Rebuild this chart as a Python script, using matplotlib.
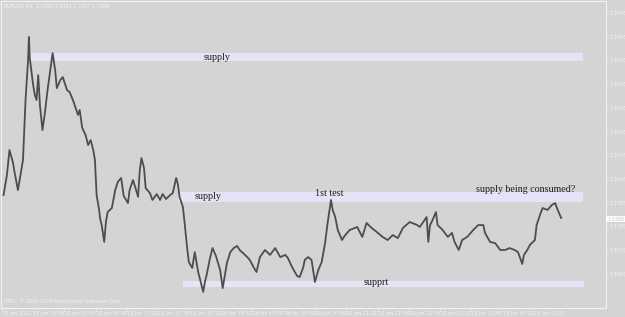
import matplotlib
matplotlib.use('Agg')
import matplotlib.pyplot as plt

# minutes since the first bar (EURUSD, M1)
minutes = [2, 6, 9, 13, 15, 19, 21, 25, 27, 28, 31, 32, 33, 37, 39, 41, 43, 45, 48, 51,
           54, 58, 60, 63, 65, 69, 72, 77, 80, 84, 86, 90, 92, 95, 99, 102, 105, 108, 110, 112,
           115, 116, 118, 121, 123, 125, 130, 134, 137, 141, 144, 149, 151, 155, 158, 161, 163, 165, 168, 170,
           175, 178, 183, 187, 190, 194, 199, 202, 206, 208, 210, 214, 216, 219, 221, 225, 228, 232, 235, 238,
           240, 242, 246, 249, 253, 258, 261, 266, 270, 274, 278, 281, 285, 290, 293, 298, 301, 305, 311, 317,
           323, 329, 335, 338, 343, 349, 352, 356, 358, 362, 366, 370, 374, 378, 382, 385, 389, 391, 394, 397,
           402, 405, 411, 420, 426, 431, 437, 443, 450, 456, 462, 468, 474, 482, 491, 494, 502, 504, 506, 508,
           513, 515, 521, 527, 532, 535, 540, 544, 550, 557, 563, 569, 571, 577, 583, 589, 595, 600, 606, 610,
           615, 617, 621, 624, 630, 632, 636, 639, 645, 650, 654, 656, 661]

price = [1.33982, 1.34066, 1.34172, 1.34121, 1.34079, 1.34003, 1.34045, 1.34130, 1.34298, 1.34383,
         1.34552, 1.34649, 1.34560, 1.34446, 1.34404, 1.34383, 1.34488, 1.34362, 1.34256, 1.34332,
         1.34425, 1.34531, 1.34581, 1.34509, 1.34433, 1.34467, 1.34480, 1.34425, 1.34417, 1.34383,
         1.34362, 1.34320, 1.34341, 1.34265, 1.34235, 1.34193, 1.34214, 1.34172, 1.34130, 1.33982,
         1.33919, 1.33885, 1.33855, 1.33784, 1.33868, 1.33910, 1.33927, 1.34003, 1.34037, 1.34054,
         1.33978, 1.33948, 1.34003, 1.34045, 1.34011, 1.33974, 1.34087, 1.34138, 1.34096, 1.34011,
         1.33990, 1.33961, 1.33986, 1.33961, 1.33986, 1.33965, 1.33982, 1.33990, 1.34054, 1.34028,
         1.33974, 1.33931, 1.33864, 1.33758, 1.33699, 1.33674, 1.33741, 1.33657, 1.33615, 1.33573,
         1.33615, 1.33644, 1.33716, 1.33758, 1.33725, 1.33665, 1.33589, 1.33695, 1.33741, 1.33758,
         1.33767, 1.33750, 1.33737, 1.33720, 1.33708, 1.33674, 1.33657, 1.33720, 1.33750, 1.33729,
         1.33758, 1.33720, 1.33729, 1.33716, 1.33678, 1.33640, 1.33636, 1.33674, 1.33708, 1.33720,
         1.33708, 1.33615, 1.33665, 1.33699, 1.33779, 1.33864, 1.33961, 1.33919, 1.33889, 1.33834,
         1.33792, 1.33809, 1.33834, 1.33847, 1.33805, 1.33864, 1.33843, 1.33826, 1.33805, 1.33792,
         1.33813, 1.33800, 1.33843, 1.33868, 1.33855, 1.33847, 1.33889, 1.33784, 1.33855, 1.33868,
         1.33910, 1.33855, 1.33834, 1.33805, 1.33822, 1.33784, 1.33750, 1.33792, 1.33805, 1.33834,
         1.33855, 1.33855, 1.33822, 1.33784, 1.33779, 1.33750, 1.33750, 1.33758, 1.33750, 1.33741,
         1.33691, 1.33729, 1.33750, 1.33771, 1.33792, 1.33855, 1.33898, 1.33927, 1.33919, 1.33940,
         1.33948, 1.33927, 1.33885]

# horizontal zones drawn on the chart
zone_start = [32, 208, 214]
zone_end = [687, 687, 688]
zone_low = [1.34547, 1.33952, 1.33594]
zone_high = [1.34581, 1.33995, 1.33619]

notes = ['supply', 'supply', '1st test', 'supply being consumed?', 'supprt']
note_x = [239, 228, 370, 560, 428]
note_y = [1.34564, 1.33974, 1.33990, 1.34006, 1.33611]

price_ticks = [1.3365, 1.3375, 1.3385, 1.3395, 1.3405, 1.3415, 1.3425, 1.3435,
               1.3445, 1.3455, 1.3465, 1.3475]
time_labels = ['18 Jan 2011', '18 Jan 15:08', '18 Jan 15:45', '18 Jan 16:24', '18 Jan 17:01',
               '18 Jan 17:38', '18 Jan 18:15', '18 Jan 18:52', '18 Jan 19:29', '18 Jan 20:06',
               '18 Jan 20:46', '18 Jan 21:21', '18 Jan 21:58', '18 Jan 22:34', '18 Jan 23:10',
               '18 Jan 23:46', '19 Jan 00:25', '19 Jan 01:02']
last_price = 1.3388

bg = '#d4d4d4'
fg = '#f2f2f2'
small = 3.5

fig = plt.figure(figsize=(6.25, 3.17), dpi=100, facecolor=bg)
ax = fig.add_axes([1 / 625, 9 / 317, 605 / 625, 307 / 317])
ax.set_facecolor(bg)

for x0, x1, lo, hi in zip(zone_start, zone_end, zone_low, zone_high):
  ax.fill_between([x0, x1], lo, hi, color='#e4e4f6', lw=0, zorder=1)

ax.plot(minutes, price, color='#4d4d4d', lw=1.3, zorder=3)

for t, x, y in zip(notes, note_x, note_y):
  ax.text(x, y, t, fontsize=7.2, family='Liberation Serif', color='#1e1e1e',
          va='center', ha='left', zorder=4)

ax.set_xlim(-1, 714)
ax.set_ylim(1.33505, 1.34801)

ax.yaxis.tick_right()
ax.set_yticks(price_ticks)
ax.set_yticklabels(['%.4f' % p for p in price_ticks])
ax.set_xticks([37 * i for i in range(len(time_labels))])
ax.set_xticklabels(time_labels, ha='left')
ax.tick_params(colors=fg, labelcolor=fg, labelsize=small, length=1.5, width=0.6, pad=0.8)
for s in ax.spines.values():
  s.set_color(fg)
  s.set_linewidth(0.8)

ax.text(1.002, (last_price - 1.33505) / (1.34801 - 1.33505), '%.4f' % last_price,
        transform=ax.transAxes, fontsize=small, color='#cfcfcf', va='center', ha='left',
        bbox=dict(facecolor='#fbfbfb', edgecolor='none', pad=0.6))

fig.text(4 / 625, 1 - 6 / 317, 'EURUSD,M1  1.3390 1.3391 1.3387 1.3388', fontsize=small,
         color=fg, va='center')
ax.text(3, 1.33535, 'FIBO,  © 2001-2009 MetaQuotes Software Corp.', fontsize=small,
        color=fg, va='center')

fig.savefig('out.png', dpi=100, facecolor=bg)
